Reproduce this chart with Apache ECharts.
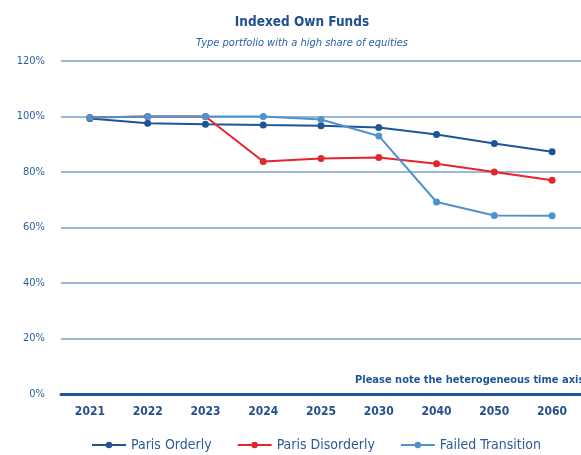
<!DOCTYPE html>
<html>
<head>
<meta charset="utf-8">
<script src="https://cdn.jsdelivr.net/npm/echarts@6/dist/echarts.min.js"></script>
<style>
  html, body { margin: 0; padding: 0; background: #ffffff; }
  #chart { width: 581px; height: 455px; }
</style>
</head>
<body>
<div id="chart"></div>
<script>
// Indexed own funds per scenario, in percent of the 2021 level
const years = ['2021', '2022', '2023', '2024', '2025', '2030', '2040', '2050', '2060'];
const parisOrderly = [99.3, 97.6, 97.2, 96.9, 96.7, 96.0, 93.5, 90.3, 87.3];
const parisDisorderly = [99.6, 100, 100, 83.8, 84.9, 85.2, 83.0, 80.0, 77.0];
const failedTransition = [99.6, 100, 100, 100, 98.9, 93.0, 69.2, 64.3, 64.2];
const yTicks = [0, 20, 40, 60, 80, 100, 120];

const navy = '#1d5597';
const red = '#e3262e';
const sky = '#4f93cd';
const labelFont = '"Liberation Sans Narrow", "DejaVu Sans Condensed", sans-serif';

const chart = echarts.init(document.getElementById('chart'));

function lineSeries(name, data, color) {
  return {
    name: name,
    type: 'line',
    data: data,
    symbol: 'circle',
    symbolSize: 7,
    lineStyle: { color: color, width: 2 },
    itemStyle: { color: color },
    z: 3
  };
}

chart.setOption({
  animation: false,
  backgroundColor: '#ffffff',
  title: {
    text: 'Indexed Own Funds',
    subtext: 'Type portfolio with a high share of equities',
    left: 297,
    textAlign: 'center',
    top: 10,
    itemGap: 9,
    textStyle: { color: '#1f4f8f', fontSize: 13.5, fontWeight: 'bold', fontFamily: labelFont },
    subtextStyle: { color: '#2a62a3', fontSize: 11, fontStyle: 'italic', fontFamily: labelFont }
  },
  grid: { left: 61, top: 61, width: 531, height: 333 },
  legend: {
    top: 433,
    left: 86,
    itemWidth: 34,
    itemHeight: 8,
    itemGap: 25,
    textStyle: { color: '#2a5c9b', fontSize: 14, fontFamily: labelFont },
    data: ['Paris Orderly', 'Paris Disorderly', 'Failed Transition']
  },
  xAxis: {
    type: 'category',
    data: years,
    boundaryGap: true,
    axisLine: { show: true, lineStyle: { color: navy, width: 3 } },
    axisTick: { show: false },
    axisLabel: { color: '#24508d', fontSize: 12, fontWeight: 'bold', fontFamily: labelFont, margin: 12 }
  },
  yAxis: {
    type: 'value',
    min: 0,
    max: 120,
    interval: 20,
    axisLine: { show: false },
    axisTick: { show: false },
    splitLine: { lineStyle: { color: '#7aa0c6', width: 1.5 } },
    axisLabel: {
      color: '#2d5f9c',
      fontSize: 11,
      fontFamily: labelFont,
      margin: 16,
      formatter: function (v) { return yTicks.indexOf(v) >= 0 ? v + '%' : ''; }
    }
  },
  graphic: [{
    type: 'text',
    left: 355,
    top: 375,
    style: {
      text: 'Please note the heterogeneous time axis',
      fill: '#1f5597',
      font: 'bold 11px ' + labelFont
    }
  }],
  series: [
    lineSeries('Paris Orderly', parisOrderly, navy),
    lineSeries('Paris Disorderly', parisDisorderly, red),
    lineSeries('Failed Transition', failedTransition, sky)
  ]
});
</script>
</body>
</html>
